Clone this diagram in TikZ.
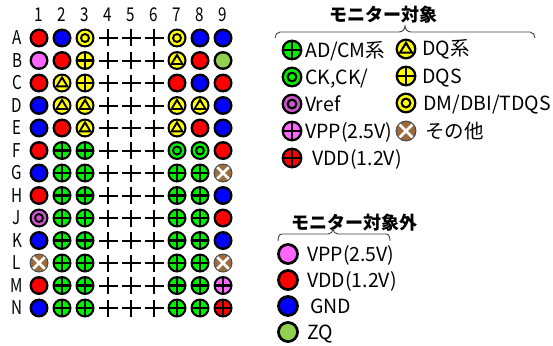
\documentclass[tikz,border=0pt]{standalone}
\usepackage{fontspec}
\setmainfont{Noto Sans CJK JP}
\newfontfamily\ttlfont{Noto Sans CJK JP}
\definecolor{cgreen}{RGB}{0,240,0}
\definecolor{cyellow}{RGB}{255,255,0}
\definecolor{cred}{RGB}{255,0,0}
\definecolor{cblue}{RGB}{0,0,255}
\definecolor{cpink}{RGB}{255,102,255}
\definecolor{cvref}{RGB}{204,85,204}
\definecolor{czq}{RGB}{146,208,80}
\definecolor{cbrown}{RGB}{156,107,60}
\newcommand\narrowtxt[1]{\scalebox{0.8}[1]{#1}}
\tikzset{
  pics/dsk/.style={code={\fill[black] (0,0) circle (9.5pt); \fill[#1] (0,0) circle (7pt);}},
  pics/pls/.style={code={\fill[black] (0,0) circle (9.5pt); \fill[#1] (0,0) circle (7.3pt);
     \draw[black,line width=2.2pt] (-8pt,0)--(8pt,0) (0,-8pt)--(0,8pt);}},
  pics/rng/.style={code={\fill[black] (0,0) circle (9.5pt); \fill[#1] (0,0) circle (7.3pt);
     \fill[black] (0,0) circle (5pt); \fill[#1] (0,0) circle (2.8pt);}},
  pics/tri/.style={code={\fill[black] (0,0) circle (9.5pt); \fill[cyellow] (0,0) circle (7.3pt);
     \fill[black] (0,7.5pt)--(-7pt,-4.3pt)--(7pt,-4.3pt)--cycle;
     \fill[cyellow] (0,3.3pt)--(-3.7pt,-2.4pt)--(3.7pt,-2.4pt)--cycle;}},
  pics/oth/.style={code={\fill[black!70] (0,0) circle (9.5pt); \fill[cbrown] (0,0) circle (8.3pt);
     \begin{scope}\clip (0,0) circle (8.3pt);
     \draw[white,line width=2.6pt] (-7pt,-7pt)--(7pt,7pt) (-7pt,7pt)--(7pt,-7pt);\end{scope}}},
  lab/.style={font=\fontsize{19}{22}\selectfont, inner sep=0pt},
  leg/.style={font=\fontsize{19.5}{22}\selectfont, inner sep=0pt, anchor=base west},
  ttl/.style={font=\ttlfont\bfseries\fontsize{18}{20}\selectfont, inner sep=0pt},
  brc/.style={draw=black!75, line width=0.9pt},
  pin/.style={line width=2pt}
}
\newcommand\mkrow[8]{%
  \node[lab] (r#1) at (17,#2) {\narrowtxt{#1}};
  \pic at (39,#2) {#3}; \pic at (62,#2) {#4}; \pic at (85,#2) {#5};
  \foreach \cx in {108,131,154}{\draw[pin] (\cx-9.5,#2)--(\cx+9.5,#2) (\cx,#2-8.5)--(\cx,#2+8.5);}
  \pic at (177,#2) {#6}; \pic at (200,#2) {#7}; \pic at (223,#2) {#8};
}
\begin{document}
\begin{tikzpicture}[x=1pt,y=-1pt]
\useasboundingbox (0,0) rectangle (553,345);
% column labels
\foreach \i in {1,...,9}{\node[lab] (c\i) at ({39+23*(\i-1)},15) {\narrowtxt{\i}};}
\mkrow{A}{38}{dsk=cred}{dsk=cblue}{rng=cyellow}{rng=cyellow}{dsk=cblue}{dsk=cblue}
\mkrow{B}{60.5}{dsk=cpink}{dsk=cred}{pls=cyellow}{tri}{dsk=cred}{dsk=czq}
\mkrow{C}{83}{dsk=cred}{tri}{pls=cyellow}{dsk=cred}{dsk=cblue}{dsk=cred}
\mkrow{D}{105.5}{dsk=cblue}{tri}{tri}{tri}{tri}{dsk=cblue}
\mkrow{E}{128}{dsk=cblue}{dsk=cred}{tri}{tri}{dsk=cred}{dsk=cblue}
\mkrow{F}{150.5}{dsk=cred}{pls=cgreen}{pls=cgreen}{rng=cgreen}{rng=cgreen}{dsk=cred}
\mkrow{G}{173}{dsk=cblue}{pls=cgreen}{pls=cgreen}{pls=cgreen}{pls=cgreen}{oth}
\mkrow{H}{195.5}{dsk=cred}{pls=cgreen}{pls=cgreen}{pls=cgreen}{pls=cgreen}{dsk=cblue}
\mkrow{J}{218}{rng=cvref}{pls=cgreen}{pls=cgreen}{pls=cgreen}{pls=cgreen}{dsk=cred}
\mkrow{K}{240.5}{dsk=cblue}{pls=cgreen}{pls=cgreen}{pls=cgreen}{pls=cgreen}{dsk=cblue}
\mkrow{L}{263}{oth}{pls=cgreen}{pls=cgreen}{pls=cgreen}{pls=cgreen}{oth}
\mkrow{M}{285.5}{dsk=cred}{pls=cgreen}{pls=cgreen}{pls=cgreen}{pls=cgreen}{pls=cpink}
\mkrow{N}{308}{dsk=cblue}{pls=cgreen}{pls=cgreen}{pls=cgreen}{pls=cgreen}{pls=cred}
% monitored legend
\node[ttl] (t1) at (383,15) {モニター対象};
\coordinate (b1l) at (275,38);
\coordinate (b1r) at (535,38);
\draw[brc] (b1l) to[out=90,in=180] ++(5,-6) -- (399,32) to[out=0,in=270] (405,26)
  to[out=270,in=180] (411,32) -- (530,32) to[out=0,in=90] (b1r);
\begin{scope}[every pic/.style={scale=1.1}]
\pic at (292,50) {pls=cgreen};
\pic at (292,77) {rng=cgreen};
\pic at (292,104) {rng=cvref};
\pic at (292,131) {pls=cpink};
\pic at (292,158) {pls=cred};
\pic at (406,49) {tri};
\pic at (406,76) {pls=cyellow};
\pic at (406,103) {rng=cyellow};
\pic at (406,131) {oth};
\end{scope}
\node[leg] (l1) at (305,57) {AD/CM系};
\node[leg] (l2) at (305,84) {CK,CK/};
\node[leg] (l3) at (305,111) {Vref};
\node[leg] (l4) at (305,138) {VPP(2.5V)};
\node[leg] (l5) at (312,165) {VDD(1.2V)};
\node[leg] (l6) at (422,56) {DQ系};
\node[leg] (l7) at (422,83) {DQS};
\node[leg] (l8) at (423,110) {DM/DBI/TDQS};
\node[leg] (l9) at (425,138) {その他};
% not monitored legend
\node[ttl] (t2) at (354,223) {モニター対象外};
\coordinate (b2l) at (278,241);
\coordinate (b2r) at (390,241);
\draw[brc] (b2l) to[out=90,in=180] ++(4,-7) -- (328,234) to[out=0,in=270] (333,229)
  to[out=270,in=180] (338,234) -- (386,234) to[out=0,in=90] (b2r);
\begin{scope}[every pic/.style={scale=1.15}]
\pic at (288,254) {dsk=cpink};
\pic at (288,280) {dsk=cred};
\pic at (288,306) {dsk=cblue};
\pic at (288,332) {dsk=czq};
\end{scope}
\node[leg] (m1) at (307,261) {VPP(2.5V)};
\node[leg] (m2) at (307,287) {VDD(1.2V)};
\node[leg] (m3) at (310,313) {GND};
\node[leg] (m4) at (307,339) {ZQ};
\end{tikzpicture}
\end{document}
